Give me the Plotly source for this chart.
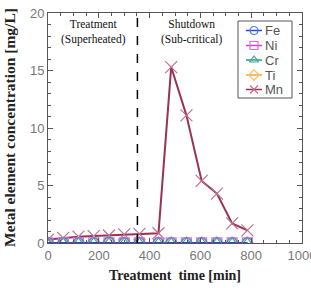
import plotly.graph_objects as go

time_min = [0, 60, 120, 180, 240, 300, 360, 435, 485, 545, 605, 665, 725, 785]
fe = [0.02, 0.02, 0.02, 0.02, 0.08, 0.02, 0.02, 0.02, 0.02, 0.02, 0.02, 0.02, 0.02, 0.02]
ni = [0.01, 0.01, 0.01, 0.01, 0.01, 0.01, 0.01, 0.01, 0.01, 0.01, 0.01, 0.01, 0.01, 0.01]
cr = [0.01, 0.01, 0.01, 0.01, 0.01, 0.01, 0.01, 0.01, 0.01, 0.01, 0.01, 0.01, 0.01, 0.01]
ti = [0.0, 0.0, 0.0, 0.0, 0.0, 0.0, 0.0, 0.0, 0.0, 0.0, 0.0, 0.0, 0.0, 0.0]
mn = [0.3, 0.45, 0.55, 0.6, 0.65, 0.75, 0.8, 0.85, 15.3, 11.1, 5.4, 4.3, 1.7, 1.1]

names = ["Fe", "Ni", "Cr", "Ti", "Mn"]
values = [fe, ni, cr, ti, mn]
line_colors = ["#3344cc", "#d040d0", "#2a9a8a", "#f0a830", "#993355"]
marker_colors = ["#4a7fd8", "#e070e0", "#3aa89a", "#f5c060", "#c07090"]
symbols = ["circle-open", "square-open", "triangle-up-open", "diamond-open", "x-thin-open"]

fig = go.Figure()
for i in reversed(range(len(names))):
    fig.add_trace(go.Scatter(
        x=time_min, y=values[i], name=names[i], mode="lines+markers",
        showlegend=False,
        line=dict(color=line_colors[i], width=2 if names[i] == "Mn" else 1.5),
        marker=dict(symbol=symbols[i], size=12 if names[i] == "Mn" else 10,
                    color=marker_colors[i], line=dict(color=marker_colors[i], width=1.2)),
    ))

fig.add_shape(type="line", x0=352, x1=352, y0=0, y1=20, xref="x", yref="y",
              line=dict(color="black", width=1.5, dash="dash"))

fig.add_annotation(x=180, y=19.75, text="Treatment<br>(Superheated)", showarrow=False,
                   yanchor="top", font=dict(family="Liberation Serif", size=11.5, color="#111"))
fig.add_annotation(x=565, y=19.75, text="Shutdown<br>(Sub-critical)", showarrow=False,
                   yanchor="top", font=dict(family="Liberation Serif", size=11.5, color="#111"))

# Custom compact legend (pixel layout converted to paper coordinates)
L, T, W, H = 48, 13, 254, 230
def px(xp):
    return (xp - L) / W
def py(yp):
    return (T + H - yp) / H

fig.add_shape(type="rect", xref="paper", yref="paper",
              x0=px(238), x1=px(292), y0=py(98), y1=py(21),
              line=dict(color="#555", width=1), fillcolor="white", layer="below")
row_y = [30.5, 45.5, 60, 75, 89.5]
for i in range(len(names)):
    fig.add_shape(type="line", xref="paper", yref="paper",
                  x0=px(246), x1=px(262), y0=py(row_y[i]), y1=py(row_y[i]),
                  line=dict(color=line_colors[i], width=1.5), layer="below")
    fig.add_annotation(xref="paper", yref="paper", x=px(263), y=py(row_y[i]),
                       text=names[i], showarrow=False, xanchor="left", yanchor="middle",
                       font=dict(family="Liberation Sans", size=13, color="#555"))
fig.add_trace(go.Scatter(
    x=[px(254)] * len(names), y=[py(v) for v in row_y], xaxis="x2", yaxis="y2",
    mode="markers", showlegend=False, hoverinfo="skip", cliponaxis=False,
    marker=dict(symbol=symbols, size=8, color=marker_colors,
                line=dict(color=marker_colors, width=1.2)),
))

axis_common = dict(
    showline=True, linecolor="#555", linewidth=1, mirror="allticks",
    ticks="inside", ticklen=5, tickcolor="#555", showgrid=False, zeroline=False,
    tickfont=dict(family="Liberation Sans", size=13, color="#777"),
    automargin=False,
)

fig.update_xaxes(range=[0, 1000], dtick=200, ticklabeloverflow="allow",
                 minor=dict(ticks="inside", dtick=50, ticklen=3, tickcolor="#555"),
                 title=dict(text="<b>Treatment  time [min]</b>", standoff=8,
                            font=dict(family="Liberation Serif", size=14, color="#222")),
                 **axis_common)
fig.update_yaxes(range=[0, 20], dtick=5,
                 minor=dict(ticks="inside", dtick=1, ticklen=3, tickcolor="#555"),
                 **axis_common)

fig.add_annotation(xref="paper", yref="paper", x=0, y=0.5, xshift=-39,
                   text="<b>Metal element concentration [mg/L]</b>", textangle=-90,
                   showarrow=False, xanchor="center", yanchor="middle",
                   font=dict(family="Liberation Serif", size=15.5, color="#222"))

fig.update_layout(
    width=311, height=288,
    margin=dict(l=48, r=9, t=13, b=45),
    plot_bgcolor="white", paper_bgcolor="white",
    xaxis2=dict(overlaying="x", range=[0, 1], visible=False, fixedrange=True),
    yaxis2=dict(overlaying="y", range=[0, 1], visible=False, fixedrange=True),
    showlegend=False,
)

fig.write_html("out.html")
